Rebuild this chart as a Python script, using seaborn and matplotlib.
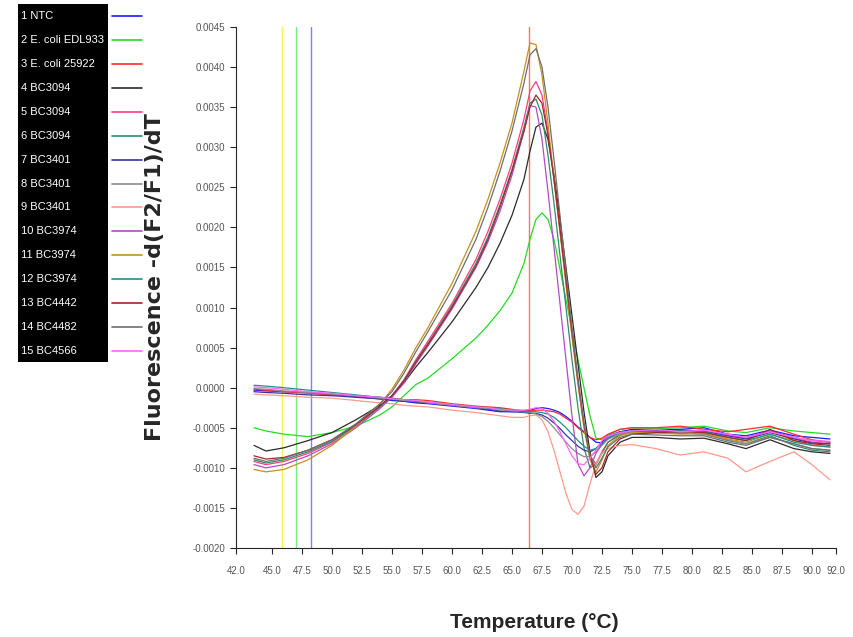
import matplotlib
matplotlib.use("Agg")
import matplotlib.pyplot as plt
import seaborn as sns
import pandas as pd
from matplotlib.lines import Line2D
from matplotlib.patches import Rectangle
from matplotlib.ticker import FormatStrFormatter

# melt curve data, values in units of 1e-4
temps = [43.5, 44.5, 46, 48, 50, 52, 54, 55, 56, 57, 58, 60, 62, 63, 64, 65, 66,
         66.5, 67, 67.5, 68, 68.5, 69, 69.5, 70, 70.5, 71, 71.5, 72, 72.5, 73,
         74, 75, 77, 79, 81, 83, 84.5, 86.5, 88.5, 90, 91.5]

ntc = [-0.3, -0.4, -0.5, -0.6, -0.8, -1.1, -1.4, -1.6, -1.7, -1.9, -2.0, -2.3, -2.6, -2.8, -3.0, -3.0, -2.9,
       -2.8, -2.6, -2.5, -2.6, -2.8, -3.1, -3.6, -4.2, -4.9, -5.5, -6.2, -6.8, -6.9, -6.4,
       -5.5, -5.2, -5.2, -5.2, -5.0, -5.8, -6.0, -5.3, -6.0, -6.2, -6.4]
edl933 = [-5.0, -5.4, -5.8, -6.1, -5.6, -4.8, -3.4, -2.4, -1.0, 0.4, 1.2, 3.6, 6.2, 7.8, 9.6, 11.8, 15.5,
          18.5, 21.0, 21.8, 21.0, 18.5, 14.8, 11.0, 7.2, 3.5, 0.0, -3.5, -6.3, -6.5, -5.9,
          -5.2, -5.0, -5.1, -5.0, -4.8, -5.4, -5.6, -5.0, -5.4, -5.6, -5.8]
ecoli25922 = [-0.2, -0.3, -0.5, -0.7, -0.9, -1.0, -1.2, -1.3, -1.5, -1.5, -1.6, -2.0, -2.3, -2.4, -2.5, -2.7, -2.9,
              -2.9, -2.8, -2.8, -2.9, -3.0, -3.3, -3.8, -4.3, -5.0, -5.6, -6.2, -6.5, -6.3, -5.8,
              -5.2, -5.0, -5.0, -4.8, -5.2, -5.5, -5.2, -4.8, -5.8, -6.5, -6.8]
bc3094_a = [-7.2, -7.9, -7.5, -6.6, -5.6, -4.0, -2.2, -1.0, 0.6, 2.6, 4.4, 8.2, 12.5, 15.0, 18.0, 21.5, 26.0,
            29.5, 32.5, 33.0, 31.0, 26.5, 21.0, 15.0, 9.0, 3.0, -3.0, -8.0, -11.2, -10.5, -8.5,
            -6.8, -6.2, -6.2, -6.4, -6.3, -7.0, -7.6, -6.5, -7.6, -8.0, -8.2]
bc3094_b = [-9.2, -9.6, -9.2, -8.2, -6.8, -4.8, -2.4, -1.0, 1.0, 3.5, 5.8, 10.5, 16.0, 19.5, 23.5, 28.0, 33.5,
            37.0, 38.2, 36.5, 32.0, 26.0, 19.5, 13.0, 6.5, 0.5, -4.8, -8.5, -9.5, -8.0, -6.8,
            -5.8, -5.5, -5.3, -5.4, -5.4, -6.0, -6.3, -5.4, -6.3, -6.8, -7.0]
bc3094_c = [-9.0, -9.4, -9.0, -8.0, -6.7, -4.7, -2.4, -1.0, 0.9, 3.3, 5.5, 10.2, 15.5, 18.8, 22.8, 27.2, 32.5,
            35.5, 36.0, 34.0, 29.0, 23.0, 16.5, 10.0, 3.5, -2.5, -7.5, -10.0, -9.6, -8.2, -6.8,
            -5.9, -5.6, -5.6, -5.7, -5.8, -6.6, -7.0, -6.0, -7.2, -7.8, -8.0]
bc3401_a = [-0.5, -0.6, -0.7, -0.9, -1.0, -1.2, -1.4, -1.5, -1.7, -1.8, -1.9, -2.2, -2.5, -2.7, -2.9, -3.0, -3.1,
            -3.2, -3.2, -3.4, -3.8, -4.4, -5.1, -5.9, -6.6, -7.3, -7.8, -8.0, -7.6, -6.8, -6.0,
            -5.5, -5.4, -5.4, -5.3, -5.4, -6.0, -6.4, -5.6, -6.4, -6.9, -7.0]
bc3401_b = [-0.1, -0.2, -0.4, -0.6, -0.8, -1.0, -1.3, -1.4, -1.6, -1.7, -1.9, -2.2, -2.5, -2.6, -2.8, -2.9, -3.0,
            -3.1, -3.3, -3.6, -4.2, -5.0, -5.9, -6.8, -7.6, -8.2, -8.6, -8.6, -8.0, -7.2, -6.4,
            -5.8, -5.6, -5.6, -5.6, -5.8, -6.5, -7.0, -6.2, -7.0, -7.6, -7.8]
bc3401_c = [-0.8, -0.9, -1.0, -1.2, -1.3, -1.6, -1.9, -2.0, -2.2, -2.3, -2.4, -2.8, -3.1, -3.3, -3.5, -3.7, -3.7,
            -3.5, -3.4, -4.0, -5.5, -7.8, -10.5, -13.2, -15.2, -15.8, -14.8, -12.0, -9.5, -8.2, -7.6,
            -7.2, -7.1, -7.6, -8.4, -8.0, -8.8, -10.5, -9.2, -8.0, -9.6, -11.5]
bc3974_a = [-9.6, -10.0, -9.6, -8.5, -7.0, -5.0, -2.6, -1.2, 0.6, 3.0, 5.2, 9.8, 15.0, 18.2, 22.0, 26.5, 32.0,
            35.2, 35.0, 31.0, 24.5, 17.5, 10.5, 3.5, -3.5, -9.5, -11.0, -10.0, -8.2, -7.0, -6.2,
            -5.6, -5.4, -5.3, -5.4, -5.3, -5.9, -6.2, -5.4, -6.2, -6.6, -6.8]
bc3974_b = [-10.2, -10.5, -10.2, -9.0, -7.2, -4.8, -2.0, -0.2, 2.2, 5.0, 7.5, 13.0, 19.5, 23.5, 28.0, 33.0, 39.5,
            43.0, 42.8, 39.0, 33.0, 26.0, 19.5, 13.0, 6.5, 0.5, -5.0, -9.0, -10.5, -9.0, -7.2,
            -6.0, -5.6, -5.6, -5.8, -5.7, -6.4, -6.8, -5.8, -6.6, -7.2, -7.4]
bc3974_c = [0.3, 0.2, 0.0, -0.3, -0.6, -0.9, -1.2, -1.4, -1.5, -1.7, -1.8, -2.1, -2.4, -2.5, -2.6, -2.8, -3.0,
            -3.0, -3.0, -3.1, -3.3, -3.7, -4.3, -5.0, -5.8, -6.6, -7.3, -7.8, -7.6, -7.0, -6.3,
            -5.6, -5.4, -5.5, -5.4, -5.5, -6.2, -6.6, -5.8, -6.8, -7.2, -7.4]
bc4442 = [-8.5, -8.9, -8.7, -7.8, -6.5, -4.6, -2.3, -1.0, 0.8, 3.2, 5.4, 10.0, 15.2, 18.5, 22.5, 27.0, 32.0,
          35.0, 36.5, 35.5, 31.5, 26.0, 19.8, 13.5, 7.0, 1.0, -4.5, -8.5, -10.8, -10.0, -8.0,
          -6.4, -5.8, -5.6, -5.5, -5.6, -6.2, -6.6, -5.2, -6.6, -7.0, -7.2]
bc4482 = [-8.8, -9.2, -8.8, -7.8, -6.5, -4.5, -2.0, -0.5, 1.8, 4.5, 7.0, 12.2, 18.5, 22.5, 27.0, 32.0, 38.0,
          41.5, 42.3, 40.0, 35.0, 28.5, 21.5, 14.5, 7.5, 1.0, -4.5, -8.5, -10.0, -8.8, -7.4,
          -6.2, -5.8, -5.9, -6.0, -6.0, -6.8, -7.2, -6.2, -7.0, -7.6, -7.8]
bc4566 = [0.1, 0.0, -0.2, -0.5, -0.7, -1.0, -1.2, -1.4, -1.5, -1.6, -1.8, -2.1, -2.4, -2.5, -2.7, -2.8, -2.8,
          -2.7, -2.5, -2.6, -3.2, -4.2, -5.5, -7.0, -8.5, -9.5, -9.6, -8.8, -7.8, -6.6, -6.0,
          -5.6, -5.4, -5.2, -5.5, -5.3, -5.8, -6.2, -5.5, -6.2, -6.6, -6.7]

labels = ["1 NTC", "2 E. coli EDL933", "3 E. coli 25922", "4 BC3094", "5 BC3094",
          "6 BC3094", "7 BC3401", "8 BC3401", "9 BC3401", "10 BC3974", "11 BC3974",
          "12 BC3974", "13 BC4442", "14 BC4482", "15 BC4566"]
series = [ntc, edl933, ecoli25922, bc3094_a, bc3094_b, bc3094_c, bc3401_a, bc3401_b,
          bc3401_c, bc3974_a, bc3974_b, bc3974_c, bc4442, bc4482, bc4566]
colors = ["#1a1aff", "#22dd22", "#ff2a2a", "#2b2b2b", "#ff3d7a", "#2e8b6b", "#3535a0",
          "#8c8c8c", "#ff9a8a", "#b04cc8", "#c8901e", "#1f8f8f", "#a0282a", "#6e6e6e", "#ff66ff"]

# vertical marker lines (temperature, colour)
marker_temps = [45.85, 47.0, 48.25, 66.45]
marker_colors = ["#ffee55", "#77ee77", "#8080ff", "#ff7070"]

xtick_vals = [42.0, 45.0, 47.5, 50.0, 52.5, 55.0, 57.5, 60.0, 62.5, 65.0, 67.5, 70.0,
              72.5, 75.0, 77.5, 80.0, 82.5, 85.0, 87.5, 90.0, 92.0]
ytick_vals = [-0.0020, -0.0015, -0.0010, -0.0005, 0.0, 0.0005, 0.0010, 0.0015,
              0.0020, 0.0025, 0.0030, 0.0035, 0.0040, 0.0045]

rows = []
for lab, vals in zip(labels, series):
    for t, v in zip(temps, vals):
        rows.append((lab, t, v * 1e-4))
df = pd.DataFrame(rows, columns=["sample", "temp", "fluor"])

sns.set_style("ticks")
plt.rcParams["font.family"] = ["Liberation Sans", "DejaVu Sans"]

fig = plt.figure(figsize=(8.54, 6.37), dpi=100)
ax = fig.add_axes([0.2763, 0.1397, 0.7026, 0.818])

for t, c in zip(marker_temps, marker_colors):
    ax.axvline(t, color=c, lw=1.0, zorder=1)

sns.lineplot(data=df, x="temp", y="fluor", hue="sample", hue_order=labels,
             palette=dict(zip(labels, colors)), linewidth=0.9, legend=False,
             estimator=None, sort=False, ax=ax)

ax.set_xlim(42, 92)
ax.set_ylim(-0.0020, 0.0045)
ax.set_xticks(xtick_vals)
ax.set_xticklabels([f"{t:.1f}" for t in xtick_vals])
ax.set_yticks(ytick_vals)
ax.yaxis.set_major_formatter(FormatStrFormatter("%.4f"))
sns.despine(ax=ax)
ax.tick_params(axis="both", labelsize=7, labelcolor="#555555", length=4, width=0.8)
ax.tick_params(axis="x", pad=9)

ax.set_xlabel("Temperature (°C)", fontsize=15, fontweight="bold")
ax.xaxis.set_label_coords(0.498, -0.125)
ax.set_ylabel("Fluorescence -d(F2/F1)/dT", fontsize=16, fontweight="bold",
              family="DejaVu Sans")
ax.yaxis.set_label_coords(-0.118, 0.52)

# legend panel: black box with white labels, colour swatches on the right
W, H = 854, 637
fig.add_artist(Rectangle((18 / W, 1 - 362 / H), 90 / W, 358 / H,
                         transform=fig.transFigure, facecolor="black", edgecolor="none"))
for i, (lab, c) in enumerate(zip(labels, colors)):
    yy = 1 - (16 + i * 23.93) / H
    fig.text(21 / W, yy, lab, color="white", fontsize=8, va="center", ha="left")
    fig.add_artist(Line2D([112 / W, 142 / W], [yy, yy], transform=fig.transFigure,
                          color=c, lw=1.2))

fig.savefig("out.png", dpi=100)
